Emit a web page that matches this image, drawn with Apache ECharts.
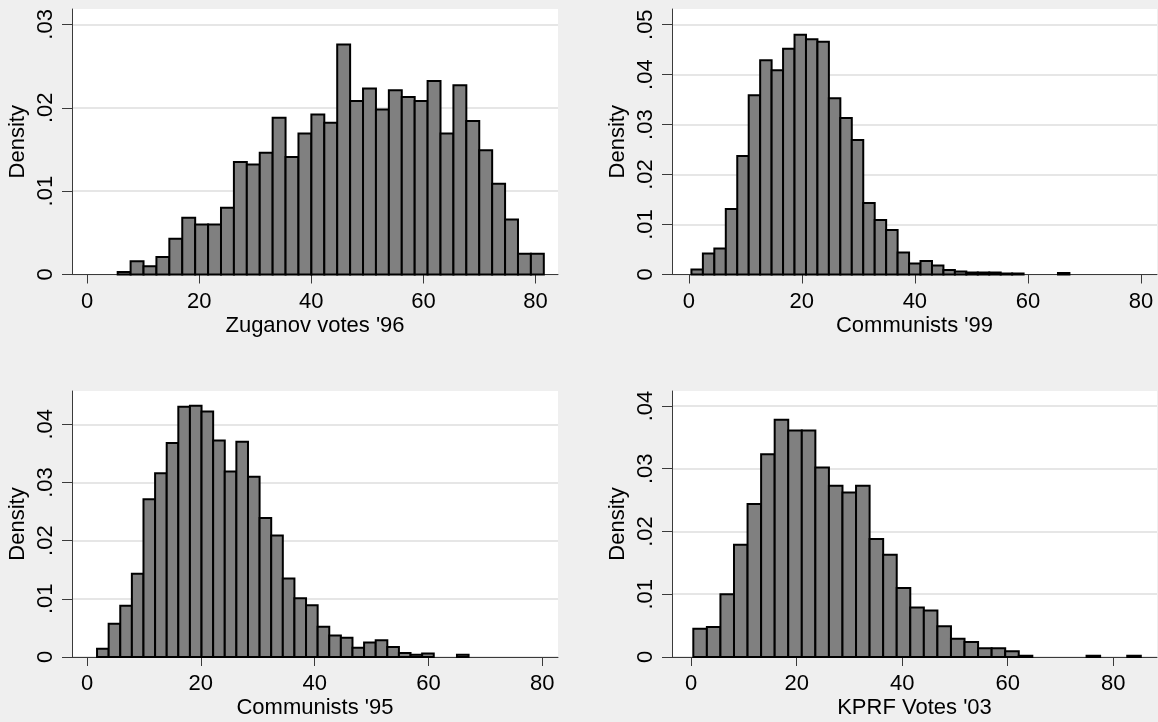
<!DOCTYPE html>
<html>
<head>
<meta charset="utf-8">
<script src="https://cdn.jsdelivr.net/npm/echarts@6/dist/echarts.min.js"></script>
<style>
  html, body { margin: 0; padding: 0; background: #efefef; }
  #chart { width: 1158px; height: 722px; }
</style>
</head>
<body>
<div id="chart"></div>
<script>
// Histogram densities of vote shares by region, four elections.
// Each panel: first bin start, bin width, and bar heights (density).

const zuganov96Start = 5.47;
const zuganov96Width = 2.303;
const zuganov96Density = [
  0.0003, 0.0016, 0.0010, 0.0021, 0.0043, 0.0068, 0.0060, 0.0060, 0.0080, 0.0135,
  0.0132, 0.0146, 0.0188, 0.0141, 0.0169, 0.0192, 0.0182, 0.0276, 0.0208, 0.0223,
  0.0198, 0.0221, 0.0213, 0.0208, 0.0232, 0.0169, 0.0227, 0.0184, 0.0149, 0.0109,
  0.0066, 0.0025, 0.0025
];

const communists99Start = 0.46;
const communists99Width = 2.027;
const communists99Density = [
  0.0010, 0.0042, 0.0052, 0.0131, 0.0237, 0.0359, 0.0429, 0.0409, 0.0452, 0.0480,
  0.0471, 0.0466, 0.0353, 0.0313, 0.0269, 0.0143, 0.0109, 0.0089, 0.0044, 0.0022,
  0.0027, 0.0018, 0.0009, 0.0006, 0.0004, 0.0004, 0.0004, 0.0002, 0.0002, 0,
  0, 0, 0.0003
];

const communists95Start = 1.76;
const communists95Width = 2.04;
const communists95Density = [
  0.0014, 0.0057, 0.0088, 0.0143, 0.0271, 0.0316, 0.0368, 0.0430, 0.0432, 0.0422,
  0.0372, 0.0319, 0.0370, 0.0310, 0.0239, 0.0209, 0.0135, 0.0101, 0.0089, 0.0052,
  0.0037, 0.0033, 0.0016, 0.0025, 0.0029, 0.0017, 0.0007, 0.0004, 0.0006, 0,
  0, 0.0004
];

const kprf03Start = 0.42;
const kprf03Width = 2.57;
const kprf03Density = [
  0.0045, 0.0048, 0.0100, 0.0179, 0.0244, 0.0323, 0.0378, 0.0361, 0.0361, 0.0302,
  0.0273, 0.0262, 0.0273, 0.0188, 0.0163, 0.0110, 0.0079, 0.0074, 0.0049, 0.0029,
  0.0024, 0.0014, 0.0014, 0.0009, 0.0002, 0, 0, 0, 0, 0.0002,
  0, 0, 0.0002
];

const xTicks = [0, 20, 40, 60, 80];
const yTicks3 = [0, 0.01, 0.02, 0.03];
const yTicks4 = [0, 0.01, 0.02, 0.03, 0.04];
const yTicks5 = [0, 0.01, 0.02, 0.03, 0.04, 0.05];

const FONT = "'Liberation Sans', Arial, Helvetica, sans-serif";
const AXIS_COLOR = '#3a3a3a';

function bins(start, width, density) {
  return density.map((d, i) => [start + i * width, start + (i + 1) * width, d]);
}

const panels = [
  { title: "Zuganov votes '96", data: bins(zuganov96Start, zuganov96Width, zuganov96Density),
    grid: { left: 72, top: 9, width: 486, height: 265.5 },
    x: [-2.68, 84.0], y: [0, 0.03185], yTicks: yTicks3 },
  { title: "Communists '99", data: bins(communists99Start, communists99Width, communists99Density),
    grid: { left: 672, top: 9, width: 485, height: 265.5 },
    x: [-2.98, 82.85], y: [0, 0.05314], yTicks: yTicks5 },
  { title: "Communists '95", data: bins(communists95Start, communists95Width, communists95Density),
    grid: { left: 72, top: 391, width: 486, height: 266 },
    x: [-2.64, 82.75], y: [0, 0.04572], yTicks: yTicks4 },
  { title: "KPRF Votes '03", data: bins(kprf03Start, kprf03Width, kprf03Density),
    grid: { left: 672, top: 391, width: 485, height: 266 },
    x: [-3.62, 88.3], y: [0, 0.04239], yTicks: yTicks4 }
];

function densityLabel(v) {
  if (v === 0) return '0';
  return String(+v.toFixed(3)).replace(/^0/, '');
}

function renderBar(params, api) {
  const x0 = api.value(0), x1 = api.value(1), d = api.value(2);
  if (!d) return null;
  const topLeft = api.coord([x0, d]);
  const bottomRight = api.coord([x1, 0]);
  return {
    type: 'rect',
    shape: {
      x: topLeft[0], y: topLeft[1],
      width: bottomRight[0] - topLeft[0],
      height: bottomRight[1] - topLeft[1]
    },
    style: { fill: '#808080', stroke: '#000000', lineWidth: 2 }
  };
}

const option = {
  backgroundColor: '#efefef',
  animation: false,
  textStyle: { fontFamily: FONT },
  grid: panels.map(p => Object.assign({
    show: true, backgroundColor: '#ffffff', borderWidth: 0,
    containLabel: false, outerBoundsMode: 'none'
  }, p.grid)),
  xAxis: panels.map((p, i) => ({
    type: 'value', gridIndex: i, min: p.x[0], max: p.x[1],
    name: p.title, nameLocation: 'middle', nameGap: 40, nameMoveOverlap: false,
    nameTextStyle: { fontSize: 22, color: '#000', fontFamily: FONT },
    axisLine: { show: true, onZero: false, lineStyle: { color: AXIS_COLOR, width: 1 } },
    axisTick: { show: true, length: 9, customValues: xTicks, lineStyle: { color: AXIS_COLOR, width: 1 } },
    axisLabel: { customValues: xTicks, margin: 16, fontSize: 22, color: '#000', fontFamily: FONT },
    splitLine: { show: false }
  })),
  yAxis: panels.map((p, i) => ({
    type: 'value', gridIndex: i, min: p.y[0], max: p.y[1],
    name: 'Density', nameLocation: 'middle', nameGap: 43, nameRotate: 90, nameMoveOverlap: false,
    nameTextStyle: { fontSize: 22, color: '#000', fontFamily: FONT },
    axisLine: { show: true, onZero: false, lineStyle: { color: AXIS_COLOR, width: 1 } },
    axisTick: { show: true, length: 10, customValues: p.yTicks, lineStyle: { color: AXIS_COLOR, width: 1 } },
    axisLabel: { customValues: p.yTicks, rotate: 90, margin: 15, fontSize: 22, color: '#000',
                 fontFamily: FONT, formatter: densityLabel },
    splitLine: { show: true, lineStyle: { color: '#e6e6e6', width: 2 } }
  })),
  series: panels.map((p, i) => ({
    type: 'custom', xAxisIndex: i, yAxisIndex: i,
    renderItem: renderBar,
    encode: { x: [0, 1], y: 2 },
    data: p.data,
    z: 3
  }))
};

const chart = echarts.init(document.getElementById('chart'), null, { renderer: 'canvas' });
chart.setOption(option);
</script>
</body>
</html>
